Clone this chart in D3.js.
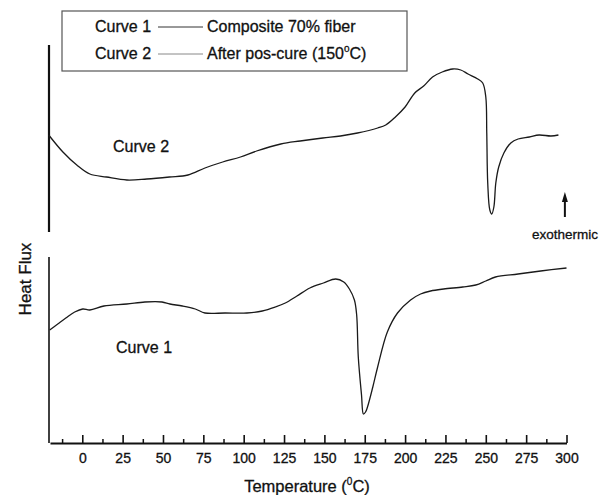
<!DOCTYPE html>
<html>
<head>
<meta charset="utf-8">
<script src="https://cdn.jsdelivr.net/npm/d3@7"></script>
<style>
  body { margin: 0; background: #fff; }
  svg { font-family: Arial, "Liberation Sans", Helvetica, sans-serif; }
  svg text { stroke: #111; stroke-width: 0.3px; }
</style>
</head>
<body>
<div id="chart"></div>
<script>
// valores (flujo de calor en unidades arbitrarias)
const curve1T = [-20.2, -15.2, -10.2, -4.7, 0.3, 4.7, 13.4, 27.6, 38.8, 49.4, 54.3, 62, 70, 76, 88.5, 102, 111.5, 119.6, 125.8, 133, 141, 149.4, 157, 162, 165.5, 168.6, 170, 171, 173, 174.2, 175.5, 176.7, 180, 183, 189, 195.3, 203.4, 209.6, 215.8, 223.9, 235.7, 243.8, 250, 256, 270, 284, 300];
const curve1V = [113, 119, 125, 131, 134, 133, 137, 139, 141, 141, 139, 137, 134, 130, 130, 130, 132, 136, 140, 147, 155, 160, 164, 161, 154, 143, 128, 86, 48, 29, 31, 36, 56, 76, 111, 130, 143, 149, 152, 154, 156, 158, 162, 166, 169, 172, 175];

const curve2T = [-20.8, -12, -3.4, 4.7, 15, 27.6, 40, 54, 65.5, 76, 87, 98, 108, 123, 135, 149, 160, 170.5, 183, 188, 194, 200, 206, 211.5, 217, 223, 229.5, 234.5, 239, 245, 248.1, 250, 250.6, 251.2, 252.5, 253.7, 255, 256.2, 258, 261.2, 265.5, 270, 277, 283, 290.4, 295];
const curve2V = [308, 291, 278, 269, 266, 263, 264, 266, 268, 275, 281, 286, 292, 299, 302, 305, 307, 310, 315, 318, 326, 336, 350, 357, 366, 371, 374, 373, 369, 364, 360, 346, 310, 260, 233, 229, 236, 260, 276, 290, 300, 304, 306, 308, 307, 308];

const majorTicks = d3.range(0, 301, 25);
const minorTicks = d3.range(-12.5, 300, 25);

const legendRows = [
  { label: "Curve 1", desc: "Composite 70% fiber", sup: null, color: "#333" },
  { label: "Curve 2", desc: "After pos-cure (150", sup: "o", color: "#888" }
];

const svgWidth = 602, svgHeight = 495;
const svg = d3.select("#chart").append("svg")
  .attr("width", svgWidth)
  .attr("height", svgHeight);

const x = d3.scaleLinear().domain([-20, 300]).range([50, 566.5]);
const y = d3.scaleLinear().domain([0, 398]).range([443, 45]);

// eje y partido en dos tramos
svg.append("line").attr("x1", 49).attr("x2", 49).attr("y1", y(398)).attr("y2", y(211))
  .attr("stroke", "#111").attr("stroke-width", 2.2);
svg.append("line").attr("x1", 49).attr("x2", 49).attr("y1", y(186)).attr("y2", y(0))
  .attr("stroke", "#111").attr("stroke-width", 1.6);

// ticks menores
svg.append("g")
  .attr("transform", `translate(0,${y(0)})`)
  .call(d3.axisBottom(x).tickValues(minorTicks).tickSize(-4).tickSizeOuter(0).tickFormat(""))
  .call(g => g.select(".domain").remove())
  .selectAll("line").attr("stroke", "#111").attr("stroke-width", 1.5);

// eje x
const xAxis = svg.append("g")
  .attr("transform", `translate(0,${y(0)})`)
  .call(d3.axisBottom(x).tickValues(majorTicks).tickSize(-8).tickSizeOuter(0).tickPadding(10));
xAxis.select(".domain").attr("stroke", "#111").attr("stroke-width", 2);
xAxis.selectAll(".tick line").attr("stroke", "#111").attr("stroke-width", 1.6);
xAxis.selectAll(".tick text").attr("fill", "#111").style("font-size", "14px")
  .style("font-family", "Arial, 'Liberation Sans', sans-serif");

// titulos
const xt = svg.append("text")
  .attr("x", 307).attr("y", 492)
  .attr("text-anchor", "middle")
  .style("font-size", "16.5px").attr("fill", "#111");
xt.append("tspan").text("Temperature (");
xt.append("tspan").text("0").style("font-size", "10px").attr("dy", -7);
xt.append("tspan").text("C)").attr("dy", 7);

svg.append("text")
  .attr("transform", "translate(31,279) rotate(-90)")
  .attr("text-anchor", "middle")
  .style("font-size", "17px").attr("fill", "#111")
  .text("Heat Flux");

// curvas
const line = d3.line().x(d => x(d[0])).y(d => y(d[1])).curve(d3.curveCatmullRom.alpha(0.5));
const c1 = curve1T.map((t, i) => [t, curve1V[i]]);
const c2 = curve2T.map((t, i) => [t, curve2V[i]]);

svg.append("path").datum(c1).attr("d", line)
  .attr("fill", "none").attr("stroke", "#1a1a1a").attr("stroke-width", 1.3)
  .attr("stroke-linejoin", "round");
svg.append("path").datum(c2).attr("d", line)
  .attr("fill", "none").attr("stroke", "#1a1a1a").attr("stroke-width", 1.3)
  .attr("stroke-linejoin", "round");

// etiquetas de curva
svg.append("text").attr("x", 113).attr("y", 152)
  .style("font-size", "16px").attr("fill", "#111").text("Curve 2");
svg.append("text").attr("x", 116).attr("y", 353)
  .style("font-size", "16px").attr("fill", "#111").text("Curve 1");

// flecha exotermica
svg.append("line").attr("x1", x(299)).attr("x2", x(299)).attr("y1", y(226)).attr("y2", y(244))
  .attr("stroke", "#111").attr("stroke-width", 2);
svg.append("path")
  .attr("d", `M${x(299)},${y(251)} L${x(299) - 3},${y(241)} L${x(299) + 3},${y(241)} Z`)
  .attr("fill", "#111");
svg.append("text").attr("x", 532).attr("y", 239)
  .style("font-size", "13.5px").attr("fill", "#111").text("exothermic");

// leyenda
svg.append("rect").attr("x", 62).attr("y", 11).attr("width", 345).attr("height", 60)
  .attr("fill", "none").attr("stroke", "#555").attr("stroke-width", 1.2);

legendRows.forEach((r, i) => {
  const by = 32 + i * 27;
  svg.append("text").attr("x", 95).attr("y", by)
    .style("font-size", "16px").attr("fill", "#111").text(r.label);
  svg.append("line").attr("x1", 158).attr("x2", 203).attr("y1", by - 5).attr("y2", by - 5)
    .attr("stroke", r.color).attr("stroke-width", 1);
  const t = svg.append("text").attr("x", 207).attr("y", by)
    .style("font-size", "16px").attr("fill", "#111");
  t.append("tspan").text(r.desc);
  if (r.sup) {
    t.append("tspan").text(r.sup).style("font-size", "10px").attr("dy", -7);
    t.append("tspan").text("C)").attr("dy", 7);
  }
});
</script>
</body>
</html>
